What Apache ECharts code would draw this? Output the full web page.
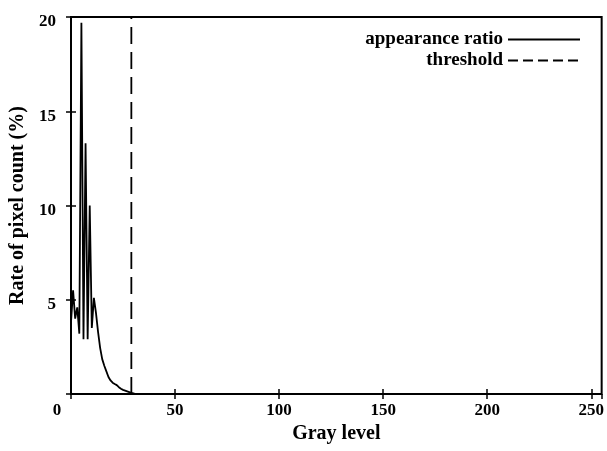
<!DOCTYPE html>
<html>
<head>
<meta charset="utf-8">
<script src="https://cdn.jsdelivr.net/npm/echarts@6/dist/echarts.min.js"></script>
<style>html,body{margin:0;padding:0;background:#fff;}#c{width:607px;height:451px;}</style>
</head>
<body>
<div id="c"></div>
<script>
// Gray level (x) and appearance ratio in % (y)
const grayLevels = [0, 1, 2, 3, 4, 5, 6, 7, 8, 9, 10, 11, 12, 13, 14, 15, 16, 17, 18, 19, 20, 21, 22, 23, 24, 25, 26, 27, 28, 29, 30, 31];
const ratioValues = [3.8, 5.5, 4.0, 4.6, 3.2, 19.7, 2.9, 13.3, 2.9, 10.0, 3.5, 5.1, 4.3, 3.3, 2.45, 1.85, 1.5, 1.2, 0.9, 0.72, 0.6, 0.53, 0.47, 0.36, 0.28, 0.22, 0.18, 0.14, 0.1, 0.06, 0.03, 0.0];
const thresholdLevel = 29;
const thresholdYs = [0, 20];
const xTicks = [0, 50, 100, 150, 200, 250];
const yTicks = [0, 5, 10, 15, 20];

const FONT = 'Liberation Serif';
const W = 'bold';
const ratioData = grayLevels.map((g, i) => [g, ratioValues[i]]);
const thresholdData = thresholdYs.map(v => [thresholdLevel, v]);

const chart = echarts.init(document.getElementById('c'), null, {renderer: 'canvas'});
const tickCommon = {show: true, inside: true, length: 5, lineStyle: {color: '#000', width: 1.5}};
chart.setOption({
  animation: false,
  backgroundColor: '#fff',
  grid: {left: 71, right: 4, top: 17, bottom: 57, show: true, borderColor: '#000', borderWidth: 2, backgroundColor: 'transparent'},
  legend: {
    orient: 'vertical', right: 21, top: 25, align: 'right',
    itemWidth: 72, itemHeight: 20, itemGap: 2,
    itemStyle: {opacity: 0},
    textStyle: {fontFamily: FONT, fontWeight: W, fontSize: 19, color: '#000'},
    data: [
      {name: 'appearance ratio'},
      {name: 'threshold', lineStyle: {type: [10, 5]}}
    ]
  },
  xAxis: [{
    type: 'value', min: 0, max: 255, interval: 50, position: 'bottom',
    name: 'Gray level', nameLocation: 'middle', nameGap: 26,
    nameTextStyle: {fontFamily: FONT, fontWeight: W, fontSize: 20, color: '#000'},
    axisLine: {show: false}, splitLine: {show: false},
    axisTick: tickCommon,
    axisLabel: {
      fontFamily: FONT, fontWeight: W, fontSize: 17, color: '#000', margin: 8,
      showMaxLabel: false,
      formatter: v => (xTicks.indexOf(v) < 0 ? '' : (v === 0 ? '{z|0}' : String(v))),
      rich: {z: {fontFamily: FONT, fontWeight: W, fontSize: 17, color: '#000', padding: [0, 28, 0, 0]}}
    }
  }, {
    type: 'value', min: 0, max: 255, interval: 50, position: 'top',
    axisLine: {show: false}, splitLine: {show: false}, axisTick: tickCommon, axisLabel: {show: false}
  }],
  yAxis: [{
    type: 'value', min: 0, max: 20, interval: 5, position: 'left',
    name: 'Rate of pixel count (%)', nameLocation: 'middle', nameGap: 38,
    nameTextStyle: {fontFamily: FONT, fontWeight: W, fontSize: 20, color: '#000'},
    axisLine: {show: false}, splitLine: {show: false},
    axisTick: tickCommon,
    axisLabel: {
      fontFamily: FONT, fontWeight: W, fontSize: 17, color: '#000', margin: 15,
      formatter: v => (v === 0 || yTicks.indexOf(v) < 0 ? '' : '{d|' + v + '}'),
      rich: {d: {fontFamily: FONT, fontWeight: W, fontSize: 17, color: '#000', padding: [10, 0, 0, 0]}}
    }
  }, {
    type: 'value', min: 0, max: 20, interval: 5, position: 'right',
    axisLine: {show: false}, splitLine: {show: false}, axisTick: tickCommon, axisLabel: {show: false}
  }],
  series: [{
    name: 'appearance ratio', type: 'line', data: ratioData, symbol: 'none',
    lineStyle: {color: '#000', width: 1.8}, itemStyle: {color: '#000'}
  }, {
    name: 'threshold', type: 'line', data: thresholdData, symbol: 'none',
    lineStyle: {color: '#000', width: 1.8, type: [17, 8]}, itemStyle: {color: '#000'}
  }]
});
</script>
</body>
</html>
